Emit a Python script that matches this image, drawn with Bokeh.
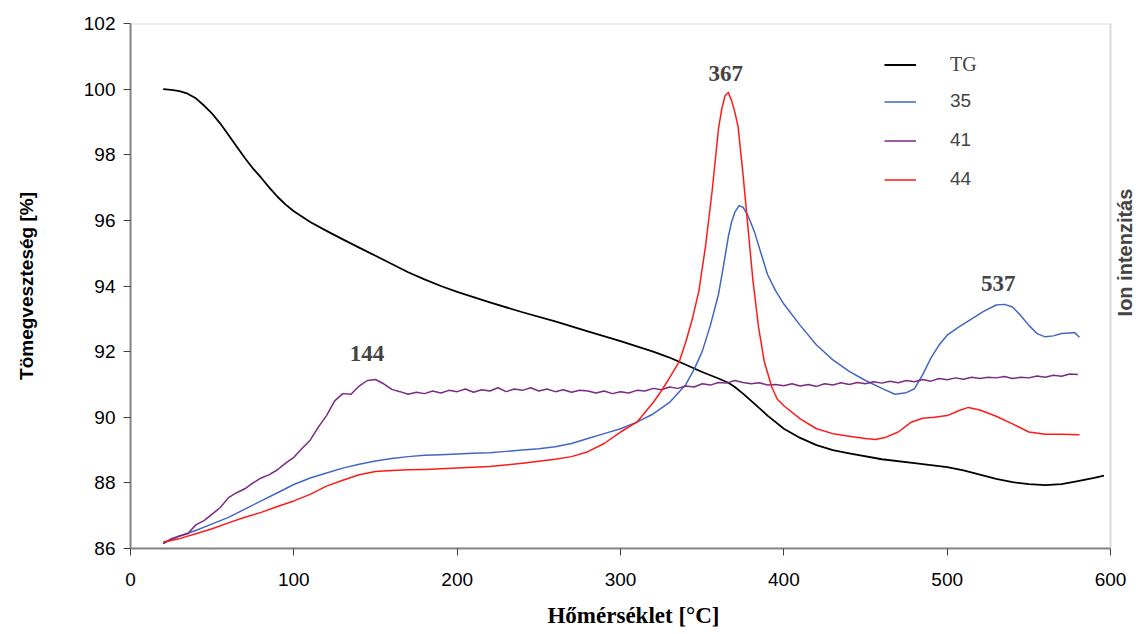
from math import pi
from bokeh.plotting import figure
from bokeh.models import Range1d, Legend, LegendItem, Label, FixedTicker, BoxAnnotation
from bokeh.embed import file_html
from bokeh.resources import INLINE

# ---------------- data ----------------
x_ticks = [0, 100, 200, 300, 400, 500, 600]
y_ticks = [86, 88, 90, 92, 94, 96, 98, 100, 102]

tg_x = [20, 25, 30, 35, 40, 45, 50, 55, 60, 65, 70, 75, 80, 85, 90, 95, 100, 110, 120, 130,
        140, 150, 160, 170, 180, 190, 200, 220, 240, 260, 280, 300, 320, 330, 340, 350, 360,
        366, 370, 375, 380, 385, 390, 395, 400, 410, 420, 430, 440, 460, 480, 500, 510, 520,
        530, 540, 550, 560, 570, 580, 590, 596]
tg_y = [100.0, 99.98, 99.94, 99.86, 99.72, 99.5, 99.25, 98.95, 98.6, 98.25, 97.9, 97.58, 97.3,
        97.0, 96.72, 96.48, 96.28, 95.95, 95.68, 95.42, 95.17, 94.92, 94.67, 94.42, 94.2, 94.0,
        93.82, 93.5, 93.2, 92.92, 92.62, 92.32, 92.0, 91.82, 91.6, 91.38, 91.18, 91.05, 90.92,
        90.72, 90.5, 90.28, 90.05, 89.85, 89.65, 89.37, 89.15, 89.0, 88.9, 88.72, 88.6, 88.48,
        88.38, 88.25, 88.12, 88.02, 87.96, 87.93, 87.96, 88.05, 88.15, 88.22]

m35_x = [20, 30, 40, 50, 60, 70, 80, 90, 100, 110, 120, 130, 140, 150, 160, 170, 180, 190, 200,
         210, 220, 230, 240, 250, 260, 270, 280, 290, 300, 310, 320, 330, 340, 345, 350, 355,
         360, 363, 366, 368, 370, 372.6, 375, 378, 382, 386, 390, 395, 400, 410, 420, 430, 440,
         450, 460, 468, 475, 480, 485, 490, 495, 500, 507, 515, 522, 530, 535, 540, 545, 550,
         555, 560, 565, 570, 575, 578, 581]
m35_y = [86.15, 86.38, 86.55, 86.75, 86.95, 87.2, 87.45, 87.7, 87.95, 88.15, 88.3, 88.45, 88.57,
         88.67, 88.74, 88.8, 88.84, 88.86, 88.88, 88.9, 88.92, 88.96, 89.0, 89.04, 89.1, 89.2,
         89.35, 89.5, 89.65, 89.85, 90.1, 90.45, 91.0, 91.45, 92.0, 92.8, 93.75, 94.6, 95.5,
         95.95, 96.25, 96.45, 96.4, 96.15, 95.65, 95.0, 94.35, 93.85, 93.45, 92.8, 92.2, 91.75,
         91.4, 91.12, 90.88, 90.7, 90.75, 90.87, 91.3, 91.8, 92.2, 92.5, 92.75, 93.0, 93.22,
         93.42, 93.44, 93.36, 93.1, 92.8, 92.55, 92.45, 92.48, 92.55, 92.57, 92.58, 92.44]

m41_x = list(range(20, 585, 5))
m41_y = [86.15, 86.30, 86.38, 86.45, 86.72, 86.85, 87.05, 87.25, 87.55, 87.70, 87.82, 88.00,
         88.15, 88.25, 88.40, 88.60, 88.78, 89.05, 89.30, 89.70, 90.05, 90.50, 90.72, 90.70,
         90.95, 91.12, 91.15, 91.02, 90.85, 90.78, 90.70, 90.76, 90.72, 90.80, 90.74, 90.82,
         90.78, 90.86, 90.76, 90.84, 90.80, 90.90, 90.78, 90.86, 90.82, 90.90, 90.80, 90.86,
         90.78, 90.84, 90.76, 90.82, 90.80, 90.74, 90.80, 90.72, 90.78, 90.74, 90.82, 90.80,
         90.88, 90.84, 90.92, 90.88, 90.95, 90.92, 91.02, 90.98, 91.06, 91.04, 91.12, 91.06,
         91.02, 91.05, 90.98, 91.00, 90.96, 91.02, 90.95, 91.00, 90.94, 91.02, 90.98, 91.05,
         91.00, 91.06, 91.02, 91.08, 91.04, 91.10, 91.05, 91.12, 91.08, 91.15, 91.10, 91.18,
         91.14, 91.20, 91.16, 91.22, 91.18, 91.22, 91.20, 91.24, 91.18, 91.22, 91.20, 91.26,
         91.22, 91.28, 91.25, 91.32, 91.30]

m44_x = [20, 30, 40, 50, 60, 70, 80, 90, 100, 110, 120, 130, 140, 150, 160, 170, 180, 200, 220,
         240, 260, 270, 280, 290, 300, 310, 320, 325, 330, 336, 340, 344, 348, 352, 356, 360,
         362, 364, 366, 368, 370, 372, 375, 378, 381, 384.5, 388, 392.6, 396, 400, 410, 420,
         430, 440, 450, 456, 462, 470, 478, 485, 492, 500, 507, 513, 520, 530, 540, 550, 560,
         570, 581]
m44_y = [86.2, 86.3, 86.45, 86.6, 86.78, 86.95, 87.1, 87.28, 87.45, 87.65, 87.9, 88.08, 88.25,
         88.35, 88.38, 88.4, 88.41, 88.45, 88.5, 88.6, 88.72, 88.8, 88.95, 89.2, 89.55, 89.85,
         90.45, 90.8, 91.2, 91.7, 92.3, 93.0, 93.85, 95.2, 96.85, 98.8, 99.4, 99.8, 99.9, 99.65,
         99.3, 98.85, 97.4, 95.8, 94.2, 92.75, 91.7, 90.92, 90.55, 90.35, 89.95, 89.65, 89.5,
         89.42, 89.35, 89.32, 89.38, 89.55, 89.85, 89.97, 90.0, 90.05, 90.2, 90.3, 90.22,
         90.03, 89.8, 89.55, 89.48, 89.48, 89.47]

peak_text = ["144", "367", "537"]
peak_x = [144.8, 364.4, 531.3]
peak_y = [91.93, 100.47, 94.07]

series_names = ["TG", "35", "41", "44"]
right_title = "Ion intenzitás"

# ---------------- layout constants ----------------
SANS = "Liberation Sans"
SERIF = "Liberation Serif"
AXIS_GRAY = "#868686"
X_MIN, X_MAX = 0, 600
Y_MIN, Y_MAX = 86, 102
X_VIEW_END = 615.9          # extra strip right of x=600 that hosts the right-hand title
RIGHT_TITLE_POS = (608.6, 95.02)

p = figure(width=1136, height=634, output_backend="svg", toolbar_location=None,
           x_range=Range1d(X_MIN, X_VIEW_END), y_range=Range1d(Y_MIN, Y_MAX),
           min_border_left=130, min_border_right=0, min_border_top=23,
           min_border_bottom=86)
p.xgrid.visible = False
p.ygrid.visible = False
p.outline_line_color = None
p.background_fill_color = "white"
p.border_fill_color = "white"

for ax, ticks in ((p.xaxis[0], x_ticks), (p.yaxis[0], y_ticks)):
    ax.ticker = FixedTicker(ticks=ticks)
    ax.minor_tick_line_color = None
    ax.major_tick_in = 0
    ax.major_tick_out = 7
    ax.major_tick_line_color = "#404040"
    ax.axis_line_color = AXIS_GRAY
    ax.axis_line_width = 2
    ax.major_label_text_font = SANS
    ax.major_label_text_font_size = "19px"
    ax.major_label_text_color = "black"
    ax.axis_label_text_color = "black"
    ax.axis_label_text_font_style = "bold"

p.xaxis.bounds = (X_MIN, X_MAX)
p.xaxis.major_label_standoff = 17
p.xaxis.axis_label = "Hőmérséklet [°C]"
p.xaxis.axis_label_text_font = SERIF
p.xaxis.axis_label_text_font_size = "23px"
p.xaxis.axis_label_standoff = 14

p.yaxis.major_label_standoff = 8
p.yaxis.axis_label = "Tömegveszteség [%]"
p.yaxis.axis_label_text_font = SANS
p.yaxis.axis_label_text_font_size = "19px"
p.yaxis.axis_label_standoff = 44

# plot-area frame (stops at x = 600)
p.add_layout(BoxAnnotation(left=X_MIN, right=X_MAX, bottom=Y_MIN, top=Y_MAX,
                           fill_color=None, line_color=AXIS_GRAY, line_width=2))

colors = ["#000000", "#4267C2", "#7B2A85", "#FF1A1A"]
widths = [1.8, 1.5, 1.5, 1.5]
xs = [tg_x, m35_x, m41_x, m44_x]
ys = [tg_y, m35_y, m41_y, m44_y]
renderers = []
for x, y, c, w in zip(xs, ys, colors, widths):
    renderers.append(p.line(x, y, line_color=c, line_width=w, line_join="round"))

leg1 = Legend(items=[LegendItem(label=series_names[0], renderers=[renderers[0]])],
              location=(754, 472), label_text_font=SERIF, label_text_font_size="20px",
              glyph_width=32, glyph_height=21, label_height=21, label_standoff=34,
              spacing=17, padding=0, margin=0, border_line_color=None,
              background_fill_alpha=0)
leg2 = Legend(items=[LegendItem(label=series_names[i], renderers=[renderers[i]]) for i in (1, 2, 3)],
              location=(754, 358), label_text_font=SANS, label_text_font_size="19px",
              glyph_width=32, glyph_height=21, label_height=21, label_standoff=34,
              spacing=17, padding=0, margin=0, border_line_color=None,
              background_fill_alpha=0)
p.add_layout(leg1)
p.add_layout(leg2)

for t, x, y in zip(peak_text, peak_x, peak_y):
    p.add_layout(Label(x=x, y=y, text=t, text_font=SERIF, text_font_style="bold",
                       text_font_size="23px", text_align="center", text_baseline="middle"))

p.add_layout(Label(x=RIGHT_TITLE_POS[0], y=RIGHT_TITLE_POS[1], text=right_title, angle=pi / 2,
                   text_align="center", text_baseline="middle", text_font=SANS,
                   text_font_style="bold", text_font_size="20px"))

open("out.html", "w").write(file_html(p, INLINE))
